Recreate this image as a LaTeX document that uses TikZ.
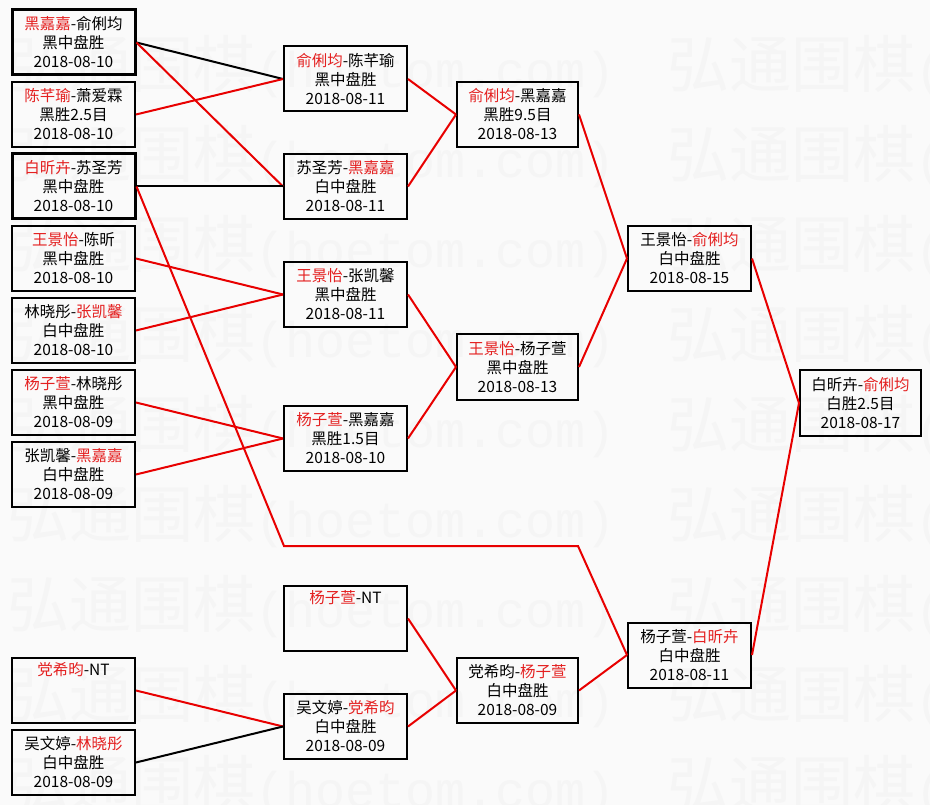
\documentclass[tikz,border=0pt]{standalone}
\usepackage{fontspec}
\setmainfont{Noto Sans CJK SC}
\newfontfamily\wmmono{Liberation Mono}
\definecolor{rd}{RGB}{228,32,32}
\definecolor{ln}{RGB}{232,0,0}
\definecolor{bgc}{RGB}{250,250,250}
\definecolor{wmc}{RGB}{245,245,245}
\newcommand{\rn}[1]{\textcolor{rd}{#1}}
\begin{document}
\begin{tikzpicture}[x=1pt,y=-1pt,
  box/.style={draw=black,line width=2pt,minimum width=123pt,minimum height=65pt,inner sep=0pt,align=center,font=\fontsize{15.5}{19}\selectfont,text=black},
  thickbox/.style={box,line width=3pt},
  win/.style={draw=ln,line width=2pt},
  lose/.style={draw=black,line width=2pt},
  wmark/.style={anchor=west,inner sep=0pt,text=wmc}]
\useasboundingbox (0,0) rectangle (930,805);
\fill[bgc] (0,0) rectangle (930,805);
\begin{scope}
\clip (0,0) rectangle (930,805);
\foreach \yy in {67,157,...,787}{
  \foreach \xx in {7,667}{
    \node[wmark] (wm-\xx-\yy) at (\xx,\yy) {{\fontsize{62}{62}\selectfont 弘通围棋}{\wmmono\fontsize{50}{50}\selectfont (hoetom.com)}};
  }
}
\end{scope}
% column 1
\node[thickbox] (c1) at (73.5,42.5) {\rn{黑嘉嘉}-俞俐均\\黑中盘胜\\2018-08-10};
\node[box] (c2) at (73.5,114.5) {\rn{陈芊瑜}-萧爱霖\\黑胜2.5目\\2018-08-10};
\node[thickbox] (c3) at (73.5,186.5) {\rn{白昕卉}-苏圣芳\\黑中盘胜\\2018-08-10};
\node[box] (c4) at (73.5,258.5) {\rn{王景怡}-陈昕\\黑中盘胜\\2018-08-10};
\node[box] (c5) at (73.5,330.5) {林晓彤-\rn{张凯馨}\\白中盘胜\\2018-08-10};
\node[box] (c6) at (73.5,402.5) {\rn{杨子萱}-林晓彤\\黑中盘胜\\2018-08-09};
\node[box] (c7) at (73.5,474.5) {张凯馨-\rn{黑嘉嘉}\\白中盘胜\\2018-08-09};
\node[box] (c8) at (73.5,690.5) {\rn{党希昀}-NT\\\strut\\\strut};
\node[box] (c9) at (73.5,762.5) {吴文婷-\rn{林晓彤}\\白中盘胜\\2018-08-09};
% column 2
\node[box] (d1) at (345.5,79) {\rn{俞俐均}-陈芊瑜\\黑中盘胜\\2018-08-11};
\node[box] (d2) at (345.5,186.5) {苏圣芳-\rn{黑嘉嘉}\\白中盘胜\\2018-08-11};
\node[box] (d3) at (345.5,294.5) {\rn{王景怡}-张凯馨\\黑中盘胜\\2018-08-11};
\node[box] (d4) at (345.5,438.5) {\rn{杨子萱}-黑嘉嘉\\黑胜1.5目\\2018-08-10};
\node[box] (d5) at (345.5,618.5) {\rn{杨子萱}-NT\\\strut\\\strut};
\node[box] (d6) at (345.5,726.5) {吴文婷-\rn{党希昀}\\白中盘胜\\2018-08-09};
% column 3
\node[box,minimum width=121pt] (e1) at (517.5,114.5) {\rn{俞俐均}-黑嘉嘉\\黑胜9.5目\\2018-08-13};
\node[box,minimum width=121pt] (e2) at (517.5,367) {\rn{王景怡}-杨子萱\\黑中盘胜\\2018-08-13};
\node[box,minimum width=121pt] (e3) at (517.5,690.5) {党希昀-\rn{杨子萱}\\白中盘胜\\2018-08-09};
% column 4
\node[box] (f1) at (689.5,258.5) {王景怡-\rn{俞俐均}\\白中盘胜\\2018-08-15};
\node[box] (f2) at (689.5,655) {杨子萱-\rn{白昕卉}\\白中盘胜\\2018-08-11};
% column 5
\node[box,minimum width=121pt] (g1) at (860.5,403) {白昕卉-\rn{俞俐均}\\白胜2.5目\\2018-08-17};
% bend points
\coordinate (k1) at (284,546);
\coordinate (k2) at (578,546);
% connectors
\draw[lose] (c1.east) -- (d1.west);
\draw[win] (c1.east) -- (d2.west);
\draw[win] (c2.east) -- (d1.west);
\draw[lose] (c3.east) -- (d2.west);
\draw[win] (c3.east) -- (k1) -- (k2) -- (f2.west);
\draw[win] (c4.east) -- (d3.west);
\draw[win] (c5.east) -- (d3.west);
\draw[win] (c6.east) -- (d4.west);
\draw[win] (c7.east) -- (d4.west);
\draw[win] (c8.east) -- (d6.west);
\draw[lose] (c9.east) -- (d6.west);
\draw[win] (d1.east) -- (e1.west);
\draw[win] (d2.east) -- (e1.west);
\draw[win] (d3.east) -- (e2.west);
\draw[win] (d4.east) -- (e2.west);
\draw[win] (d5.east) -- (e3.west);
\draw[win] (d6.east) -- (e3.west);
\draw[win] (e1.east) -- (f1.west);
\draw[win] (e2.east) -- (f1.west);
\draw[win] (e3.east) -- (f2.west);
\draw[win] (f1.east) -- (g1.west);
\draw[win] (f2.east) -- (g1.west);
\end{tikzpicture}
\end{document}
